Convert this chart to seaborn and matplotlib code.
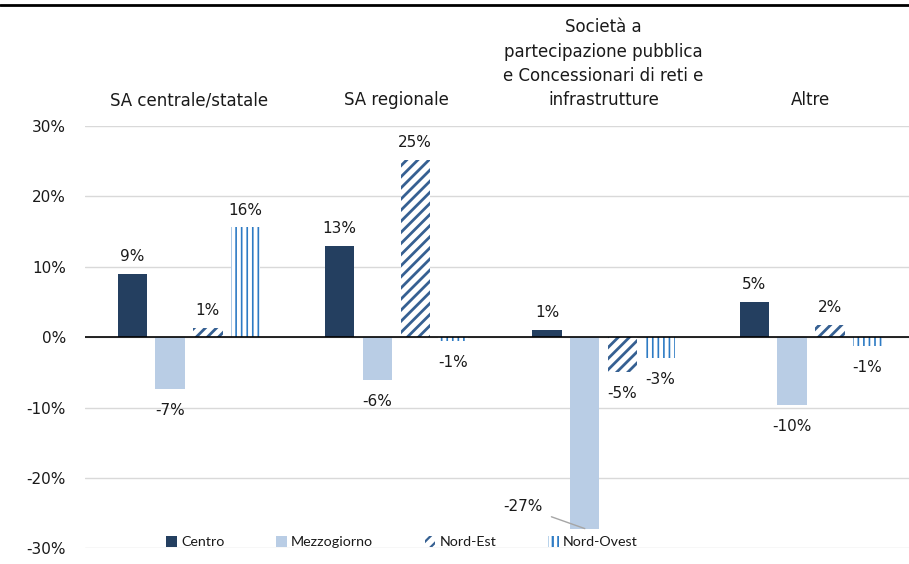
import numpy as np
import pandas as pd
import seaborn as sns
import matplotlib.pyplot as plt
from matplotlib.patches import Patch
from matplotlib.lines import Line2D

# Dati (variazioni %)
categorie = ["SA centrale/statale", "SA regionale",
             "Società a\npartecipazione pubblica\ne Concessionari di reti e\ninfrastrutture",
             "Altre"]
regioni = ["Centro", "Mezzogiorno", "Nord-Est", "Nord-Ovest"]
centro = [9.0, 13.0, 1.0, 5.0]
mezzogiorno = [-7.4, -6.1, -27.2, -9.7]
nord_est = [1.3, 25.2, -5.0, 1.7]
nord_ovest = [15.6, -0.6, -3.0, -1.3]
y_ticks = [-30, -20, -10, 0, 10, 20, 30]

serie = {"Centro": centro, "Mezzogiorno": mezzogiorno,
         "Nord-Est": nord_est, "Nord-Ovest": nord_ovest}
rows = []
for reg in regioni:
    for cat, v in zip(categorie, serie[reg]):
        rows.append({"categoria": cat, "regione": reg, "valore": v})
df = pd.DataFrame(rows)

col_centro = "#243F60"
col_mezz = "#B9CDE5"
col_ne = "#366092"
col_no = "#2E7BC4"

sns.set_style("white")
plt.rcParams["font.family"] = ["DejaVu Sans"]
plt.rcParams["hatch.linewidth"] = 1.6

fig = plt.figure(figsize=(9.09, 5.64), dpi=100)
ax = fig.add_axes([85.4 / 909, 1 - 548.3 / 564, 829.2 / 909, (548.3 - 126) / 564])

sns.barplot(data=df, x="categoria", y="valore", hue="regione",
            order=categorie, hue_order=regioni,
            palette=[col_centro, col_mezz, "white", "white"],
            width=0.728, gap=0.22, saturation=1, linewidth=0,
            legend=False, ax=ax)

# tratteggi
for bar in ax.containers[2]:
    bar.set_facecolor("white")
    bar.set_edgecolor(col_ne)
    bar.set_hatch("///")
    bar.set_linewidth(0)
    if hasattr(bar, "set_hatch_linewidth"):
        bar.set_hatch_linewidth(2.0)
for bar in ax.containers[3]:
    bar.set_facecolor("white")
    bar.set_edgecolor(col_no)
    bar.set_hatch("|||")
    bar.set_linewidth(0)
    if hasattr(bar, "set_hatch_linewidth"):
        bar.set_hatch_linewidth(1.2)

ax.set_ylim(-30, 30)
ax.set_yticks(y_ticks)
ax.set_yticklabels([f"{t}%" for t in y_ticks])
ax.yaxis.grid(True, color="#d9d9d9", linewidth=1)
ax.set_axisbelow(True)
ax.axhline(0, color="black", linewidth=1.2, zorder=3)
for s in ax.spines.values():
    s.set_visible(False)

ax.set_xlabel("")
ax.set_ylabel("")
ax.xaxis.tick_top()
ax.tick_params(axis="x", length=0, pad=12)
ax.tick_params(axis="y", length=0, pad=14, labelsize=11, labelcolor="#1a1a1a")
for lab in ax.get_xticklabels():
    lab.set_fontsize(12)
    lab.set_linespacing(1.45)
    lab.set_color("#1a1a1a")

# etichette dei valori
for i, reg in enumerate(regioni):
    for j, bar in enumerate(ax.containers[i]):
        v = serie[reg][j]
        xc = bar.get_x() + bar.get_width() / 2
        txt = f"{round(v):d}%"
        if reg == "Mezzogiorno" and j == 2:
            ax.annotate(txt, xy=(xc, v), xytext=(1.707, -24.1),
                        ha="right", va="center", fontsize=11, color="#1a1a1a",
                        arrowprops=dict(arrowstyle="-", color="#a6a6a6",
                                        lw=1, shrinkA=4, shrinkB=0))
        elif v >= 0:
            ax.annotate(txt, xy=(xc, v), xytext=(0, 7), textcoords="offset points",
                        ha="center", va="bottom", fontsize=11, color="#1a1a1a")
        else:
            ax.annotate(txt, xy=(xc, v), xytext=(0, -10), textcoords="offset points",
                        ha="center", va="top", fontsize=11, color="#1a1a1a")

# legenda
handles = [Patch(facecolor=col_centro, linewidth=0),
           Patch(facecolor=col_mezz, linewidth=0),
           Patch(facecolor="white", edgecolor=col_ne, hatch="///", linewidth=0),
           Patch(facecolor="white", edgecolor=col_no, hatch="|||", linewidth=0)]
leg = ax.legend(handles, regioni, loc="center left",
                bbox_to_anchor=((166 - 85.4) / 829.2, 6 / 422.3),
                ncol=4, frameon=False, prop={"family": "Lato", "size": 10.3},
                handlelength=0.75, handleheight=0.75,
                handletextpad=0.3, columnspacing=3.6, borderpad=0, borderaxespad=0,
                labelcolor="#1a1a1a")

# linea superiore
fig.add_artist(Line2D([0, 1], [1 - 5 / 564, 1 - 5 / 564], color="black", linewidth=2,
                      transform=fig.transFigure))

fig.savefig("out.png", dpi=100)
